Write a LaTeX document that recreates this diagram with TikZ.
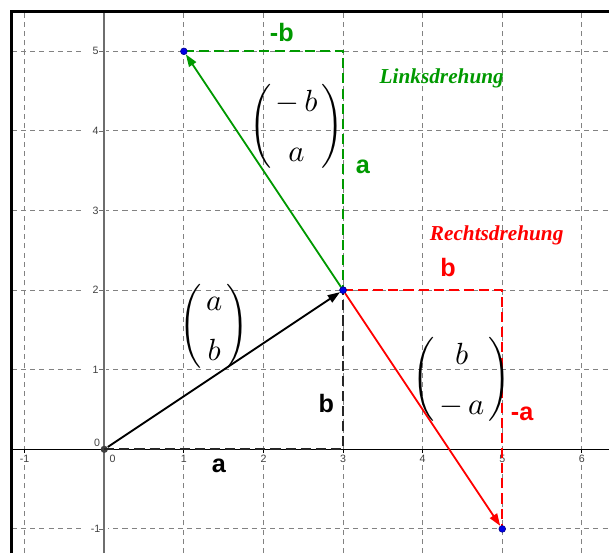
\documentclass[tikz,border=0pt]{standalone}
\usepackage{fontspec}
\setmainfont{Liberation Serif}
\setsansfont{Liberation Sans}
\usetikzlibrary{arrows.meta}
\definecolor{ggreen}{RGB}{0,153,0}
\definecolor{gred}{RGB}{255,0,0}
\definecolor{gridgray}{RGB}{130,130,130}
\definecolor{axisgray}{RGB}{110,110,110}
\definecolor{ptblue}{RGB}{0,0,230}
\newcommand{\myvec}[2]{$\delimiterfactor=800\delimitershortfall=10pt\setlength{\arraycolsep}{1.5pt}\renewcommand{\arraystretch}{1.42}\left(\begin{array}{c} #1\\ #2\end{array}\right)$}
\begin{document}
\begin{tikzpicture}[x=1cm,y=1cm,
 gridline/.style={gridgray, line width=0.35pt, dash pattern=on 1.8pt off 1.5pt},
 vec/.style={line width=0.65pt, -{Triangle[length=4.4pt,width=3pt]}},
 helper/.style={line width=0.8pt, dash pattern=on 3.6pt off 1.8pt},
 pt/.style={circle, fill=ptblue, draw=ptblue!60!black, line width=0.2pt, inner sep=0pt, minimum size=2.4pt},
 ptorigin/.style={circle, fill=black!75, inner sep=0pt, minimum size=2.6pt},
 ticklab/.style={font=\sffamily\fontsize{3.8}{4}\selectfont, text=black!75, fill=white, inner xsep=2.6pt, inner ysep=0.4pt},
 sidelab/.style={font=\sffamily\bfseries\fontsize{9}{10}\selectfont},
 titlelab/.style={font=\rmfamily\bfseries\itshape\fontsize{7.6}{9}\selectfont},
 matlab/.style={font=\fontsize{10.5}{12.6}\selectfont, inner sep=0pt}
]
\useasboundingbox (-1.310,-1.303) rectangle (6.341,5.645);
% grid
\foreach \x in {-1,1,2,3,4,5,6} \draw[gridline] (\x,-1.303) -- (\x,5.497);
\foreach \y in {-1,1,2,3,4,5} \draw[gridline] (-1.163,\y) -- (6.341,\y);
% tick labels
\foreach \x in {-1,1,2,3,4,5,6} \node[ticklab, inner xsep=0.6pt] (tx\x) at (\x,-0.12) {\x};
\foreach \y in {-1,1,2,3,4,5} \node[ticklab] (ty\y) at (-0.11,\y) {\y};
\node[ticklab, inner xsep=0.6pt] (tx0) at (0.105,-0.12) {0};
\node[ticklab, fill=none] (ty0) at (-0.09,0.08) {0};
% axes
\draw[black, line width=0.5pt] (-1.163,0) -- (6.341,0);
\draw[axisgray, line width=0.6pt] (0,-1.303) -- (0,5.497);
% ticks
\foreach \x in {-1,1,2,3,4,5,6} \draw[black, line width=0.3pt] (\x,0) -- (\x,-0.04);
\foreach \y in {-1,1,2,3,4,5} \draw[axisgray, line width=0.3pt] (0,\y) -- (-0.06,\y);
% frame
\draw[black, line width=1.2pt] (-1.163,-1.303) -- (-1.163,5.497) -- (6.341,5.497);
% points
\node[ptorigin] (O) at (0,0) {};
\coordinate (A) at (3,0);
\coordinate (G) at (3,5);
\coordinate (H) at (5,2);
% helper lines
\draw[helper, black!85] (O.center) -- (A) -- (3,2);
\draw[helper, ggreen] (1,5) -- (G) -- (3,2);
\draw[helper, gred] (3,2) -- (H) -- (5,-1);
\node[pt] (P) at (3,2) {};
\node[pt] (L) at (1,5) {};
\node[pt] (R) at (5,-1) {};
% vectors
\draw[vec, black] (O) -- (P);
\draw[vec, ggreen] (P) -- (L);
\draw[vec, gred] (P) -- (R);
\node[pt] at (P) {};
% labels
\node[sidelab, ggreen] (lmb) at (2.23,5.24) {-b};
\node[sidelab, ggreen] (la) at (3.25,3.55) {a};
\node[titlelab, ggreen] (links) at (4.24,4.66) {Linksdrehung};
\node[titlelab, gred] (rechts) at (4.93,2.69) {Rechtsdrehung};
\node[sidelab, gred] (rb) at (4.32,2.28) {b};
\node[sidelab, gred] (rma) at (5.25,0.44) {-a};
\node[sidelab, black] (bb) at (2.79,0.57) {b};
\node[sidelab, black] (ba) at (1.44,-0.21) {a};
% matrices
\node[matlab] (m1) at (2.415,4.055) {\myvec{-\,b}{a}};
\node[matlab] (m2) at (1.38,1.55) {\myvec{a}{b}};
\node[matlab] (m3) at (4.49,0.883) {\myvec{b}{-\,a}};
\end{tikzpicture}
\end{document}
